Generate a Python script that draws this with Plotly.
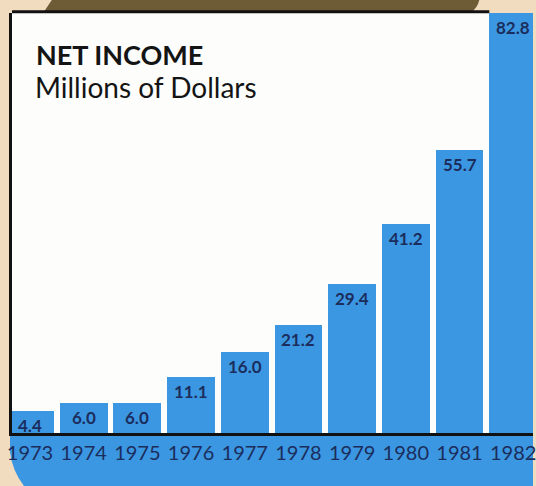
import plotly.graph_objects as go

# Net income by year, millions of dollars
years = [1973, 1974, 1975, 1976, 1977, 1978, 1979, 1980, 1981, 1982]
net_income = [4.4, 6.0, 6.0, 11.1, 16.0, 21.2, 29.4, 41.2, 55.7, 82.8]
year_labels = [str(y) for y in years]
value_labels = [f"{v:.1f}" for v in net_income]

W, H = 536, 486
ML, MR, MT, MB = 12, 0, 13, 53
PW, PH = W - ML - MR, H - MT - MB

BEIGE = "#f2dcc0"
OLIVE = "#6d5c36"
BLUE = "#3b97e2"
NAVY = "#1b2d5c"
FONT = "Lato, 'Open Sans', sans-serif"


def px_x(px):
    return (px - ML) / PW


def px_y(py):
    return (H - MB - py) / PH


x0_range = 1972.665
x1_range = x0_range + PW / 54.0
bar_w = 0.89

fig = go.Figure()
fig.add_trace(go.Bar(
    x=years,
    y=net_income,
    width=bar_w,
    marker=dict(color=BLUE, line=dict(width=0)),
    hoverinfo="skip",
))

shapes = []
# olive band along the top edge
shapes.append(dict(
    type="path", xref="paper", yref="paper", layer="below",
    path=(f"M {px_x(52)},{px_y(0)} L {px_x(482)},{px_y(0)} "
          f"Q {px_x(480)},{px_y(8)} {px_x(474)},{px_y(12)} "
          f"L {px_x(44)},{px_y(12)} Q {px_x(48)},{px_y(6)} {px_x(52)},{px_y(0)} Z"),
    fillcolor=OLIVE, line=dict(width=0),
))
# blue band under the axis
shapes.append(dict(
    type="path", xref="paper", yref="paper", layer="below",
    path=(f"M {px_x(10)},{px_y(434)} L {px_x(536)},{px_y(434)} "
          f"L {px_x(536)},{px_y(486)} L {px_x(24)},{px_y(486)} "
          f"Q {px_x(12)},{px_y(470)} {px_x(10)},{px_y(452)} Z"),
    fillcolor=BLUE, line=dict(width=0),
))
# top frame line up to the last bar
shapes.append(dict(
    type="line", xref="x", yref="paper", layer="below",
    x0=x0_range - 0.05, x1=1982 - bar_w / 2, y0=1.003, y1=1.003,
    line=dict(color="#111111", width=3),
))

annotations = [
    dict(text="<b>NET INCOME</b>", xref="paper", yref="paper",
         x=px_x(34), y=px_y(36), xanchor="left", yanchor="top",
         showarrow=False, font=dict(family=FONT, size=27, color="#141414")),
    dict(text="Millions of Dollars", xref="paper", yref="paper",
         x=px_x(33), y=px_y(68), xanchor="left", yanchor="top",
         showarrow=False, font=dict(family=FONT, size=28, color="#141414")),
]

# value labels just inside the top of each bar
for yr, val, lab in zip(years, net_income, value_labels):
    annotations.append(dict(
        x=yr, y=val, xref="x", yref="y", text=lab,
        xanchor="center", yanchor="top", yshift=-2, showarrow=False,
        font=dict(family=FONT, size=17, color=NAVY, weight="bold"),
    ))

fig.update_layout(
    width=W, height=H,
    margin=dict(l=ML, r=MR, t=MT, b=MB, pad=0),
    paper_bgcolor=BEIGE,
    plot_bgcolor="#fdfdfb",
    showlegend=False,
    bargap=0,
    shapes=shapes,
    annotations=annotations,
    xaxis=dict(
        range=[x0_range, x1_range],
        tickvals=years, ticktext=year_labels,
        tickfont=dict(family=FONT, size=20, color=NAVY),
        ticklabeloverflow="allow",
        ticks="", showgrid=False, zeroline=False,
        showline=True, linecolor="#111111", linewidth=3,
        fixedrange=True,
    ),
    yaxis=dict(
        range=[0, 82.8],
        showticklabels=False, ticks="", showgrid=False, zeroline=False,
        showline=True, linecolor="#111111", linewidth=3,
        fixedrange=True,
    ),
)

fig.write_html("out.html", config={"displayModeBar": False})
